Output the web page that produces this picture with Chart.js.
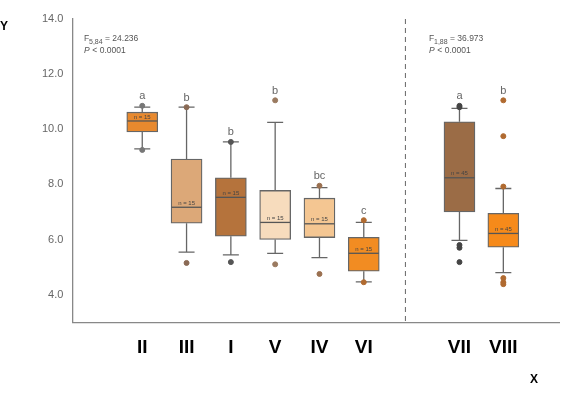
<!DOCTYPE html>
<html><head><meta charset="utf-8">
<script src="https://cdn.jsdelivr.net/npm/chart.js@4.4.0/dist/chart.umd.min.js"></script>
<style>body{margin:0;background:#fff}#w{width:584px;height:402px}</style>
</head><body><div id="w"><canvas id="c"></canvas></div>
<script>
const categories = ['II','III','I','V','IV','VI','VII','VIII'];
const positions = [0,1,2,3,4,5,7.16,8.15];
const whiskerLow = [9.29,5.54,5.44,5.5,5.34,4.46,5.97,4.8];
const q1 = [9.9,6.59,6.12,6.0,6.07,4.85,7.0,5.72];
const medians = [10.3,7.17,7.53,6.62,6.57,5.5,8.24,6.22];
const q3 = [10.62,8.92,8.24,7.78,7.5,6.08,10.27,6.95];
const whiskerHigh = [10.8,10.8,9.54,10.25,7.88,6.62,10.76,7.85];
const outliers = [[10.85,9.25],[10.8,5.15],[9.54,5.18],[11.05,5.1],[7.95,4.75],[6.7,4.45],[10.85,10.8,5.7,5.8,5.18],[11.05,9.75,7.92,4.6,4.45,4.38]];
const letters = ['a','b','b','b','bc','c','a','b'];
const nLabels = ['n = 15','n = 15','n = 15','n = 15','n = 15','n = 15','n = 45','n = 45'];
const yTicks = [4,6,8,10,12,14];
const fills = ['#E8892E','#DCA878','#B5733C','#F7DCBD','#F4C692','#F28C22','#9B6C46','#F68A1A'];
const outColors = ['#777','#8a6a55','#555','#9a7a60','#9a7050','#b06a30','#444','#b06a30'];

const boxData = positions.map((p,i)=>({x:p,y:[q1[i],q3[i]]}));
const outData = []; const outCol = [];
outliers.forEach((arr,i)=>arr.forEach(v=>{outData.push({x:positions[i],y:v}); outCol.push(outColors[i]);}));

const boxPlugin = {
  id:'box',
  beforeDatasetsDraw(chart){
    const {ctx, scales:{x,y}} = chart;
    ctx.save(); ctx.strokeStyle='#666'; ctx.lineWidth=1.3;
    positions.forEach((p,i)=>{
      const px=x.getPixelForValue(p);
      ctx.beginPath();
      ctx.moveTo(px,y.getPixelForValue(whiskerHigh[i])); ctx.lineTo(px,y.getPixelForValue(q3[i]));
      ctx.moveTo(px,y.getPixelForValue(q1[i])); ctx.lineTo(px,y.getPixelForValue(whiskerLow[i]));
      [whiskerHigh[i],whiskerLow[i]].forEach(v=>{const py=y.getPixelForValue(v);ctx.moveTo(px-8,py);ctx.lineTo(px+8,py);});
      ctx.stroke();
    });
    const dx=x.getPixelForValue(5.94);
    ctx.setLineDash([5,4]); ctx.strokeStyle='#666'; ctx.lineWidth=1;
    ctx.beginPath(); ctx.moveTo(dx,y.getPixelForValue(14)); ctx.lineTo(dx,y.getPixelForValue(3)); ctx.stroke();
    ctx.restore();
  },
  afterDatasetsDraw(chart){
    const {ctx, scales:{x,y}} = chart;
    ctx.save();
    positions.forEach((p,i)=>{
      const px=x.getPixelForValue(p), pm=y.getPixelForValue(medians[i]);
      ctx.strokeStyle='#555'; ctx.lineWidth=1.3;
      ctx.beginPath(); ctx.moveTo(px-15,pm); ctx.lineTo(px+15,pm); ctx.stroke();
      ctx.fillStyle='#444'; ctx.font='6px Arial'; ctx.textAlign='center'; ctx.textBaseline='bottom';
      ctx.fillText(nLabels[i],px,pm-1);
      const top=Math.max(whiskerHigh[i],...outliers[i]);
      ctx.fillStyle='#666'; ctx.font='11px Arial';
      ctx.fillText(letters[i],px,y.getPixelForValue(top)-4);
    });
    ctx.fillStyle='#555'; ctx.textAlign='left'; ctx.textBaseline='alphabetic';
    const txt=(sx,sub,val)=>{
      ctx.font='8.5px Arial'; ctx.fillText('F',sx,41);
      ctx.font='7px Arial'; ctx.fillText(sub,sx+5,44);
      const w=ctx.measureText(sub).width;
      ctx.font='8.5px Arial'; ctx.fillText(' = '+val,sx+5+w,41);
      ctx.font='italic 8.5px Arial'; ctx.fillText('P',sx,53);
      ctx.font='8.5px Arial'; ctx.fillText(' < 0.0001',sx+6,53);
    };
    txt(84,'5,84','24.236'); txt(429,'1,88','36.973');
    ctx.fillStyle='#000'; ctx.font='bold 12px Arial';
    ctx.fillText('Y',0,30); ctx.fillText('X',530,383);
    ctx.restore();
  }
};

new Chart(document.getElementById('c'),{
  data:{datasets:[
    {type:'bar',data:boxData,backgroundColor:fills,borderColor:'#666',borderWidth:1.3,borderSkipped:false,barThickness:31,order:2},
    {type:'scatter',data:outData,pointBackgroundColor:outCol,pointBorderColor:outCol,pointRadius:2.5,order:1}
  ]},
  options:{
    responsive:true,maintainAspectRatio:false,animation:false,
    layout:{padding:{left:39,top:19,right:25,bottom:35}},
    plugins:{legend:{display:false},tooltip:{enabled:false}},
    scales:{
      x:{type:'linear',min:-0.89,max:8.72,grid:{display:false,drawTicks:true,tickLength:6,color:'#888'},border:{color:'#888',width:1.3},
        afterBuildTicks(s){s.ticks=positions.map(v=>({value:v}));},
        ticks:{autoSkip:false,maxRotation:0,color:'#000',font:{size:19,weight:'bold',family:'Arial'},padding:8,
          callback:(v,i)=>categories[i]}},
      y:{min:3,max:14,grid:{display:false,tickLength:6},border:{color:'#888',width:1.3},
        afterBuildTicks(s){s.ticks=yTicks.map(v=>({value:v}));},
        ticks:{color:'#666',font:{size:11,family:'Arial'},callback:v=>v.toFixed(1)}}
    }
  },
  plugins:[boxPlugin]
});
</script></body></html>
